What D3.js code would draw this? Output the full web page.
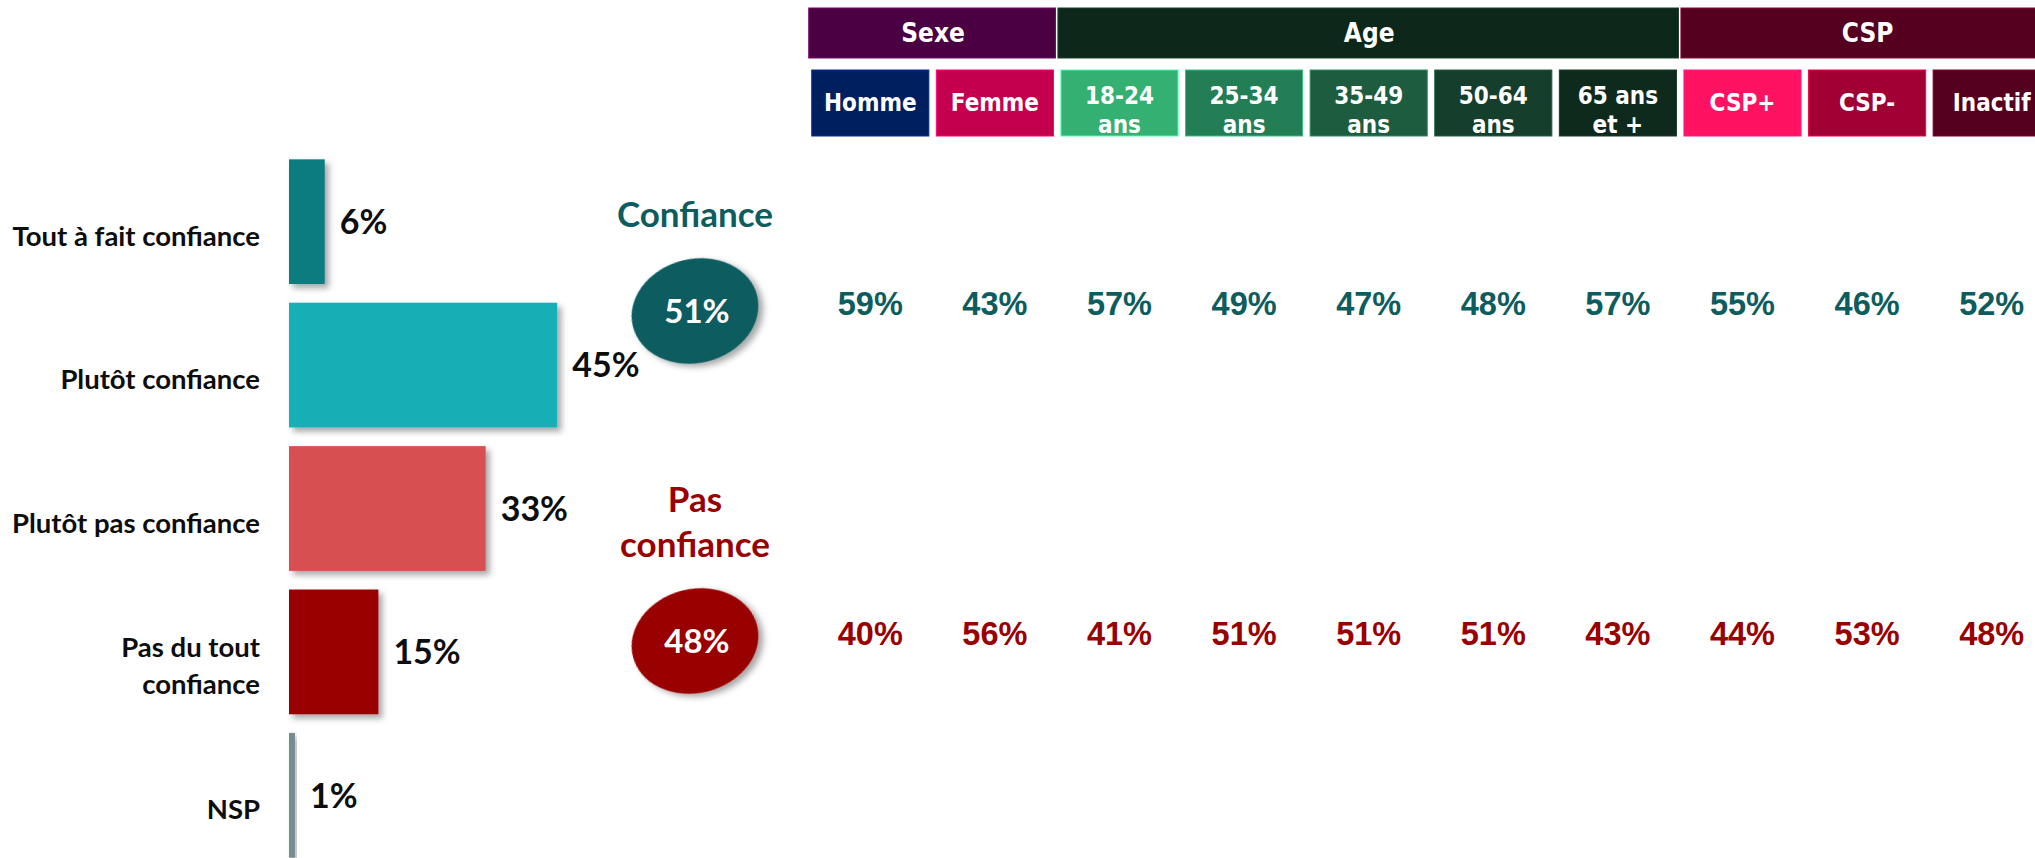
<!DOCTYPE html>
<html>
<head>
<meta charset="utf-8">
<script src="https://cdn.jsdelivr.net/npm/d3@7"></script>
<style>
  html, body { margin: 0; padding: 0; background: #fff; overflow: hidden; }
</style>
</head>
<body>
<div id="chart"></div>
<script>
// Answer categories and their shares (%)
const categories = ['Tout à fait confiance', 'Plutôt confiance', 'Plutôt pas confiance', 'Pas du tout\nconfiance', 'NSP'];
const shares = [6, 45, 33, 15, 1];
const barColors = ['#107b80', '#14afb5', '#d84f51', '#990000', '#778c8f'];

// Aggregated totals
const totalLabels = ['Confiance', 'Pas\nconfiance'];
const totals = [51, 48];
const totalColors = ['#0d5c5e', '#990000'];

// Cross-tab columns
const groups = ['Sexe', 'Age', 'CSP'];
const groupColors = ['#4a0042', '#0d271a', '#55001e'];
const columns = ['Homme', 'Femme', '18-24\nans', '25-34\nans', '35-49\nans', '50-64\nans', '65 ans\net +', 'CSP+', 'CSP-', 'Inactif'];
const columnGroups = ['Sexe', 'Sexe', 'Age', 'Age', 'Age', 'Age', 'Age', 'CSP', 'CSP', 'CSP'];
const columnColors = ['#001f5f', '#c4004e', '#34b072', '#237d55', '#1d5c3f', '#163e2d', '#0e2a1d', '#ff1262', '#a00034', '#55001e'];
const confianceValues = [59, 43, 57, 49, 47, 48, 57, 55, 46, 52];
const pasConfianceValues = [40, 56, 41, 51, 51, 51, 43, 44, 53, 48];

const width = 2035;
const height = 858;
const labelFont = 'Lato, "Open Sans", sans-serif';
const headerFont = '"DejaVu Sans Condensed", "DejaVu Sans", sans-serif';
const gridFont = '"Liberation Sans", Arial, sans-serif';

const svg = d3.select('#chart')
  .append('svg')
  .attr('width', width)
  .attr('height', height);

// Soft drop shadow used by bars and bubbles
svg.append('defs')
  .append('filter')
  .attr('id', 'shadow')
  .attr('x', '-20%').attr('y', '-20%')
  .attr('width', '150%').attr('height', '150%')
  .append('feDropShadow')
  .attr('dx', 4).attr('dy', 4)
  .attr('stdDeviation', 3)
  .attr('flood-color', '#000')
  .attr('flood-opacity', 0.35);

// ---- Left bar chart ----
const y = d3.scaleBand()
  .domain(categories)
  .range([150, 867])
  .paddingInner(0.13)
  .paddingOuter(0.065);

const x = d3.scaleLinear()
  .domain([0, 100])
  .range([289, 885]);

const barData = categories.map((c, i) => ({ cat: c, value: shares[i], color: barColors[i] }));

svg.selectAll('rect.bar')
  .data(barData)
  .join('rect')
  .attr('class', 'bar')
  .attr('x', x(0))
  .attr('y', d => y(d.cat))
  .attr('width', d => x(d.value) - x(0))
  .attr('height', y.bandwidth())
  .attr('fill', d => d.color)
  .attr('filter', 'url(#shadow)');

svg.selectAll('text.value')
  .data(barData)
  .join('text')
  .attr('class', 'value')
  .attr('x', d => x(d.value) + 15)
  .attr('y', d => y(d.cat) + y.bandwidth() / 2)
  .attr('dy', '0.36em')
  .attr('fill', '#0d0d0d')
  .attr('font-family', labelFont)
  .attr('font-weight', 700)
  .attr('font-size', '34px')
  .text(d => d.value + '%');

// Category labels (may span two lines)
barData.forEach(d => {
  const lines = d.cat.split('\n');
  const lineH = 37;
  const base = y(d.cat) + y.bandwidth() / 2 + 24 - (lines.length - 1) * lineH / 2;
  const t = svg.append('text')
    .attr('text-anchor', 'end')
    .attr('fill', '#0d0d0d')
    .attr('font-family', labelFont)
    .attr('font-weight', 700)
    .attr('font-size', '27.5px');
  lines.forEach((line, i) => {
    t.append('tspan')
      .attr('x', x(0) - 29)
      .attr('y', base + i * lineH)
      .text(line);
  });
});

// ---- Totals bubbles ----
const rowY = d3.scalePoint()
  .domain(totalLabels)
  .range([311, 641]);
const bubbleX = 695;

totalLabels.forEach((label, i) => {
  const cy = rowY(label);
  const lines = label.split('\n');
  const lineH = 45;

  const title = svg.append('text')
    .attr('text-anchor', 'middle')
    .attr('fill', totalColors[i])
    .attr('font-family', labelFont)
    .attr('font-weight', 700)
    .attr('font-size', '35px');
  lines.forEach((line, j) => {
    title.append('tspan')
      .attr('x', bubbleX)
      .attr('y', cy - 84 - (lines.length - 1 - j) * lineH)
      .text(line);
  });

  svg.append('ellipse')
    .attr('cx', 0).attr('cy', 0)
    .attr('rx', 64).attr('ry', 52)
    .attr('transform', `translate(${bubbleX},${cy}) rotate(-14)`)
    .attr('fill', totalColors[i])
    .attr('filter', 'url(#shadow)');

  svg.append('text')
    .attr('x', bubbleX + 2)
    .attr('y', cy)
    .attr('dy', '0.36em')
    .attr('text-anchor', 'middle')
    .attr('fill', '#fff')
    .attr('font-family', labelFont)
    .attr('font-weight', 700)
    .attr('font-size', '33px')
    .text(totals[i] + '%');
});

// ---- Cross-tab header ----
const col = d3.scaleBand()
  .domain(columns)
  .range([808, 2054])
  .paddingInner(0.06)
  .paddingOuter(0.03);

groups.forEach((g, i) => {
  const cols = columns.filter((c, k) => columnGroups[k] === g);
  const x0 = d3.min(cols, c => col(c)) - 3;
  const x1 = d3.max(cols, c => col(c) + col.bandwidth()) + 4;
  svg.append('rect')
    .attr('x', x0).attr('y', 8)
    .attr('width', x1 - x0 - 2).attr('height', 50)
    .attr('fill', groupColors[i])
    .attr('stroke', d3.color(groupColors[i]).brighter(1.5))
    .attr('stroke-width', 1);
  svg.append('text')
    .attr('x', (x0 + x1) / 2)
    .attr('y', 42)
    .attr('text-anchor', 'middle')
    .attr('fill', '#fff')
    .attr('font-family', headerFont)
    .attr('font-weight', 700)
    .attr('font-size', '26px')
    .text(g);
});

columns.forEach((c, i) => {
  svg.append('rect')
    .attr('x', col(c)).attr('y', 70)
    .attr('width', col.bandwidth()).attr('height', 66)
    .attr('fill', columnColors[i])
    .attr('stroke', d3.color(columnColors[i]).brighter(1.2))
    .attr('stroke-width', 1);
  const lines = c.split('\n');
  const t = svg.append('text')
    .attr('text-anchor', 'middle')
    .attr('fill', '#fff')
    .attr('font-family', headerFont)
    .attr('font-weight', 700)
    .attr('font-size', '24px');
  lines.forEach((line, j) => {
    t.append('tspan')
      .attr('x', col(c) + col.bandwidth() / 2)
      .attr('y', lines.length === 1 ? 111 : 104 + j * 29)
      .text(line);
  });
});

// ---- Cross-tab values ----
const rows = [
  { key: totalLabels[0], values: confianceValues, color: totalColors[0] },
  { key: totalLabels[1], values: pasConfianceValues, color: totalColors[1] }
];

rows.forEach(r => {
  svg.selectAll(null)
    .data(r.values)
    .join('text')
    .attr('x', (d, i) => col(columns[i]) + col.bandwidth() / 2)
    .attr('y', rowY(r.key) - 8)
    .attr('dy', '0.36em')
    .attr('text-anchor', 'middle')
    .attr('fill', r.color)
    .attr('font-family', gridFont)
    .attr('font-weight', 700)
    .attr('font-size', '32.5px')
    .text(d => d + '%');
});
</script>
</body>
</html>
